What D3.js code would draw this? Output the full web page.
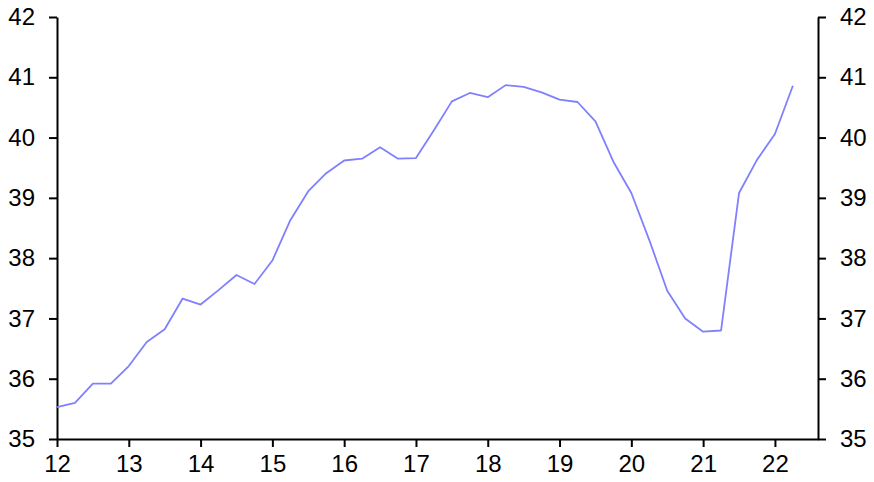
<!DOCTYPE html>
<html><head><meta charset="utf-8">
<script src="https://cdn.jsdelivr.net/npm/d3@7"></script>
<style>body{margin:0;background:#fff}svg{display:block}text{font-family:"Liberation Sans",Arial,sans-serif}</style>
</head><body>
<svg id="c" width="874" height="482"></svg>
<script>
const startYear = 12;
const values = [35.53,35.6,35.92,35.92,36.21,36.61,36.82,37.33,37.23,37.47,37.72,37.57,
  37.96,38.63,39.11,39.41,39.62,39.65,39.84,39.65,39.66,40.12,40.6,40.74,40.67,40.87,40.84,
  40.75,40.63,40.59,40.27,39.6,39.08,38.3,37.46,37.0,36.78,36.8,39.08,39.63,40.06,40.86];
const xTicks = [12,13,14,15,16,17,18,19,20,21,22];
const yTicks = [35,36,37,38,39,40,41,42];

const W = 874, H = 482, m = {l:57, r:56, t:17, b:43};
const svg = d3.select("#c");
const x = d3.scaleLinear().domain([12, 22.6]).range([m.l, W - m.r]);
const y = d3.scaleLinear().domain([35, 42]).range([H - m.b, m.t]);
const data = values.map((v,i)=>({t:startYear + i*0.25, v}));
const fmt = d3.format("d");

function style(g){
  g.selectAll("path.domain").attr("stroke","#000").attr("stroke-width",2);
  g.selectAll(".tick line").attr("stroke","#000").attr("stroke-width",2);
  g.selectAll(".tick text").attr("fill","#000").style("font-size","24px").style("font-family","'Liberation Sans',Arial,sans-serif");
}
svg.append("g").attr("transform",`translate(${m.l},0)`)
  .call(d3.axisLeft(y).tickValues(yTicks).tickFormat(fmt).tickSize(8).tickPadding(14).tickSizeOuter(0))
  .call(style);
svg.append("g").attr("transform",`translate(${W-m.r},0)`)
  .call(d3.axisRight(y).tickValues(yTicks).tickFormat(fmt).tickSize(8).tickPadding(14).tickSizeOuter(0))
  .call(style);
svg.append("g").attr("transform",`translate(0,${H-m.b})`)
  .call(d3.axisBottom(x).tickValues(xTicks).tickFormat(fmt).tickSize(8).tickPadding(8).tickSizeOuter(0))
  .call(style);

svg.append("path").datum(data)
  .attr("fill","none").attr("stroke","#8080ff").attr("stroke-width",1.8)
  .attr("stroke-linejoin","round")
  .attr("d", d3.line().x(d=>x(d.t)).y(d=>y(d.v)));
</script>
</body></html>
